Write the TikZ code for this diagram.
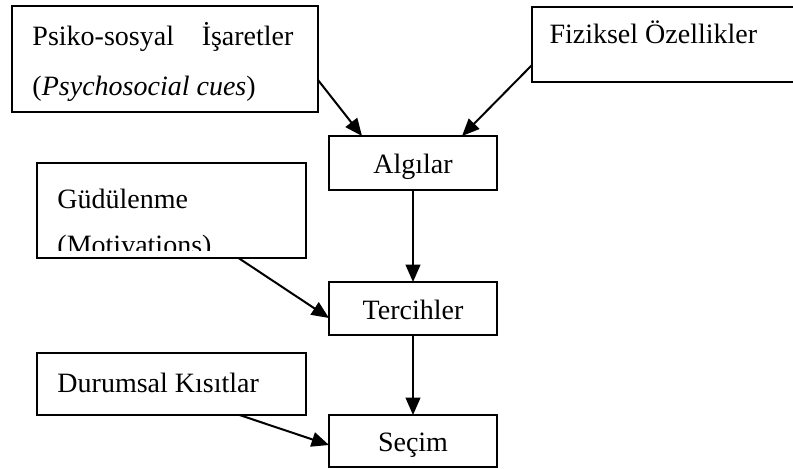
\documentclass[tikz,border=0pt]{standalone}
\usepackage{fontspec}
\setmainfont{Liberation Serif}
\usetikzlibrary{arrows.meta,calc}

\tikzset{every picture/.style={line width=0.75pt}}
\tikzset{
  box/.style={draw, line width=1pt, inner sep=0pt, outer sep=0pt},
  label/.style={font=\fontsize{21pt}{24pt}\selectfont, inner sep=0pt},
  flow/.style={line width=1.5pt, -{Triangle[length=13pt,width=11pt]}}
}

\begin{document}
\begin{tikzpicture}[x=0.75pt,y=0.75pt,yscale=-1,xscale=1]
		\useasboundingbox (0,0) rectangle (793,468);
		
		%Shape: Rectangle
		\node [box, minimum width=306*0.75pt, minimum height=106*0.75pt] (psiko) at (165,59) {};
		%Shape: Rectangle
		\node [box, minimum width=268*0.75pt, minimum height=75*0.75pt] (fiziksel) at (666,44.5) {};
		%Shape: Rectangle
		\node [box, minimum width=168*0.75pt, minimum height=54*0.75pt] (algilar) at (413,163) {};
		%Shape: Rectangle
		\node [box, minimum width=269*0.75pt, minimum height=95*0.75pt] (gudulenme) at (171.5,210.5) {};
		%Shape: Rectangle
		\node [box, minimum width=168*0.75pt, minimum height=53*0.75pt] (tercihler) at (413,308.5) {};
		%Shape: Rectangle
		\node [box, minimum width=269*0.75pt, minimum height=62*0.75pt] (durumsal) at (171.5,384) {};
		%Shape: Rectangle
		\node [box, minimum width=168*0.75pt, minimum height=52*0.75pt] (secim) at (413,441) {};
		
		%Straight Lines
		\draw [flow] ($(psiko.east)+(0,21)$) -- ($(algilar.north)+(-51,0)$) ;
		%Straight Lines
		\draw [flow] ($(fiziksel.west)+(0,20.5)$) -- ($(algilar.north)+(49,0)$) ;
		%Straight Lines
		\draw [flow] (algilar.south) -- (tercihler.north) ;
		%Straight Lines
		\draw [flow] ($(gudulenme.south)+(67,0)$) -- ($(tercihler.west)+(0,9.5)$) ;
		%Straight Lines
		\draw [flow] (tercihler.south) -- (secim.north) ;
		%Straight Lines
		\draw [flow] ($(durumsal.south)+(68,0)$) -- ($(secim.west)+(0,4)$) ;
		
		% Text Node
		\node [label, anchor=base west] (psikoA) at (32,45) {\makebox[195.75pt][s]{Psiko-sosyal\hfill İşaretler}};
		% Text Node
		\node [label, anchor=base west] (psikoB) at (32,95) {(\textit{Psychosocial cues})};
		% Text Node
		\node [label, anchor=base west] (fizikselT) at (549,43) {Fiziksel Özellikler};
		% Text Node
		\node [label, anchor=base] (algilarT) at (413,173) {Algılar};
		% Text Node
		\node [label, anchor=base west] (gudulenmeA) at (57,208) {Güdülenme};
		% Text Node, cut off by the box
		\begin{scope}
		\clip (37,163) rectangle (306,250);
		\node [label, anchor=base west] (gudulenmeB) at (57,254) {(Motivations)};
		\end{scope}
		% Text Node
		\node [label, anchor=base] (tercihlerT) at (413,319) {Tercihler};
		% Text Node
		\node [label, anchor=base west] (durumsalT) at (57,392) {Durumsal Kısıtlar};
		% Text Node
		\node [label, anchor=base] (secimT) at (413,451) {Seçim};
		
\end{tikzpicture}
\end{document}
